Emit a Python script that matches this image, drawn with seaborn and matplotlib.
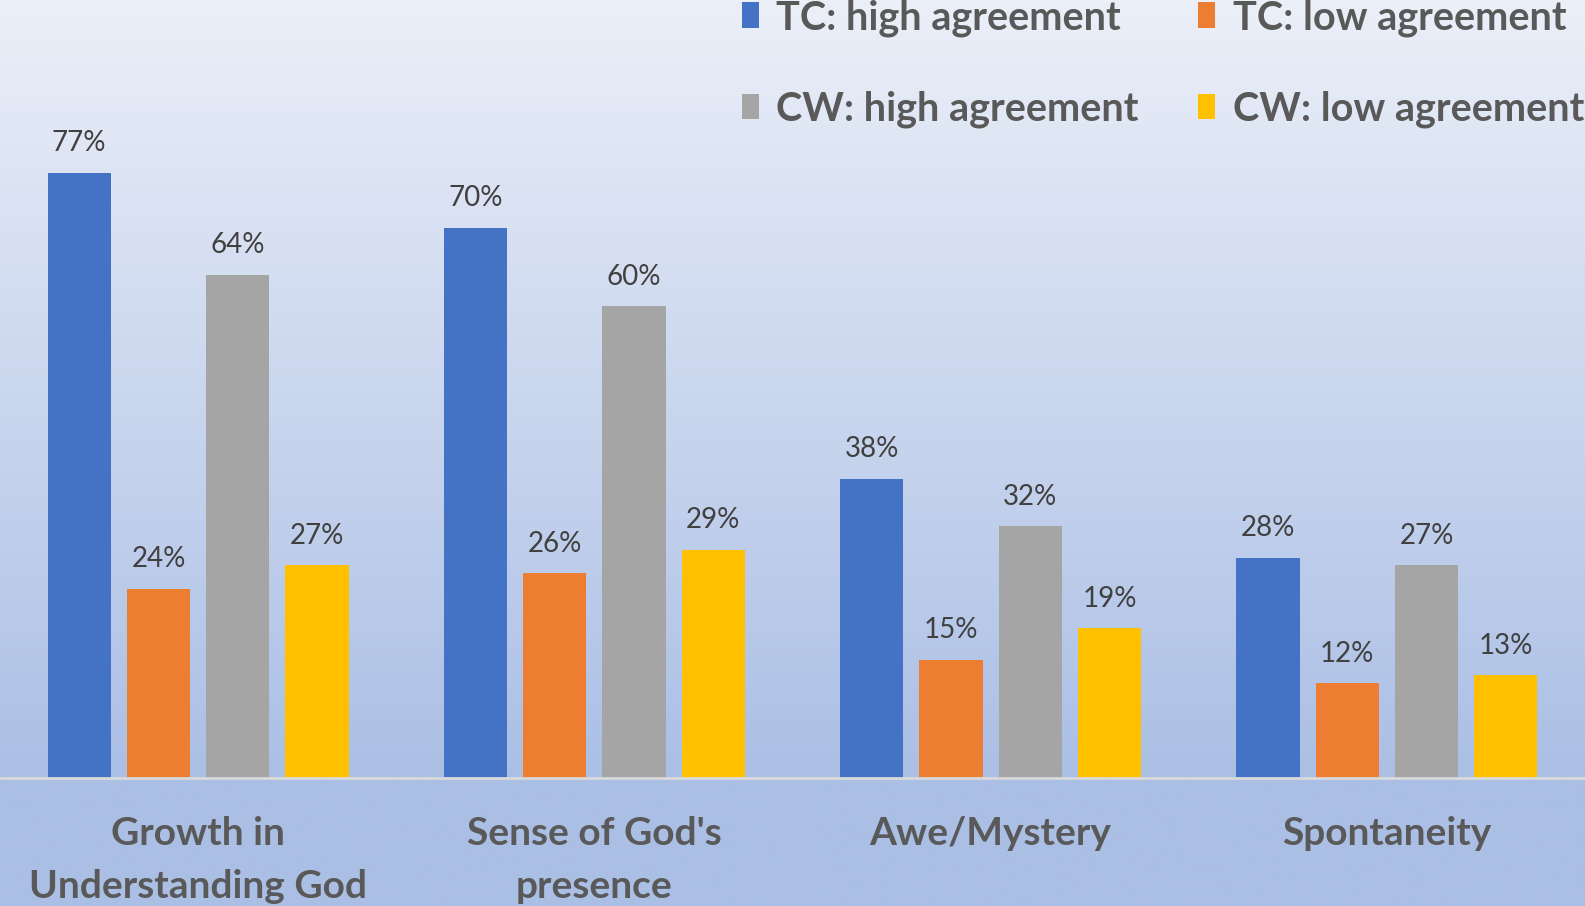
import pandas as pd
import numpy as np
from matplotlib import pyplot as plt
from matplotlib.colors import LinearSegmentedColormap
import seaborn as sns

# data
categories = ["Growth in\nUnderstanding God", "Sense of God's\npresence", "Awe/Mystery", "Spontaneity"]
series = ["TC: high agreement", "TC: low agreement", "CW: high agreement", "CW: low agreement"]
tc_high = [77, 70, 38, 28]
tc_low = [24, 26, 15, 12]
cw_high = [64, 60, 32, 27]
cw_low = [27, 29, 19, 13]
colors = ['#4472C4', '#ED7D31', '#A5A5A5', '#FFC000']

rows = []
for name, vals in zip(series, [tc_high, tc_low, cw_high, cw_low]):
    for cat, v in zip(categories, vals):
        rows.append({'category': cat, 'series': name, 'value': v})
df = pd.DataFrame(rows)

sns.set_style('white')
plt.rcParams['font.family'] = ['Lato', 'DejaVu Sans']

W, H = 1585, 906
fig = plt.figure(figsize=(W / 100, H / 100), dpi=100)

# gradient background
bg = fig.add_axes([0, 0, 1, 1], zorder=-10)
base_frac = 777.5 / H
grad = np.linspace(0, 1, 400)
cmap = LinearSegmentedColormap.from_list('bg', ['#ebeff8', '#abbfe5'])
img = np.clip(grad / base_frac, 0, 1)[:, None]
bg.imshow(img, aspect='auto', cmap=cmap, extent=[0, 1, 1, 0], vmin=0, vmax=1)
bg.set_axis_off()

ax = fig.add_axes([0, 1 - base_frac, 1, base_frac])
ax.set_facecolor('none')
sns.barplot(data=df, x='category', y='value', hue='series', palette=colors,
            width=0.8, gap=0.2, saturation=1, linewidth=0, edgecolor='none',
            ax=ax, legend=True)
ax.set_xlim(-0.5, 3.5)
ax.set_ylim(0, 99)
ax.axhline(0, color='#d9d9d9', lw=2, zorder=5, clip_on=False)

for c in ax.containers:
    ax.bar_label(c, fmt='%d%%', padding=12, fontsize=20, color='#404040')

for s in ax.spines.values():
    s.set_visible(False)
ax.set_yticks([])
ax.set_xlabel('')
ax.set_ylabel('')
ax.tick_params(axis='x', length=0, pad=28)
for t in ax.get_xticklabels():
    t.set_fontsize(28)
    t.set_fontweight('bold')
    t.set_color('#595959')
    t.set_linespacing(1.61)

handles, labels = ax.get_legend_handles_labels()
ax.get_legend().remove()
order = [0, 2, 1, 3]
leg = fig.legend([handles[i] for i in order], [labels[i] for i in order],
                 ncol=2, loc='upper left',
                 bbox_to_anchor=(742 / W, 1 + 1 / H), frameon=False,
                 prop={'size': 28.5, 'weight': 'bold'}, labelcolor='#595959',
                 handlelength=0.42, handleheight=0.6, handletextpad=0.45,
                 columnspacing=1.5, labelspacing=1.36, borderpad=0, borderaxespad=0)

plt.savefig('out.png', dpi=100)
plt.close()
